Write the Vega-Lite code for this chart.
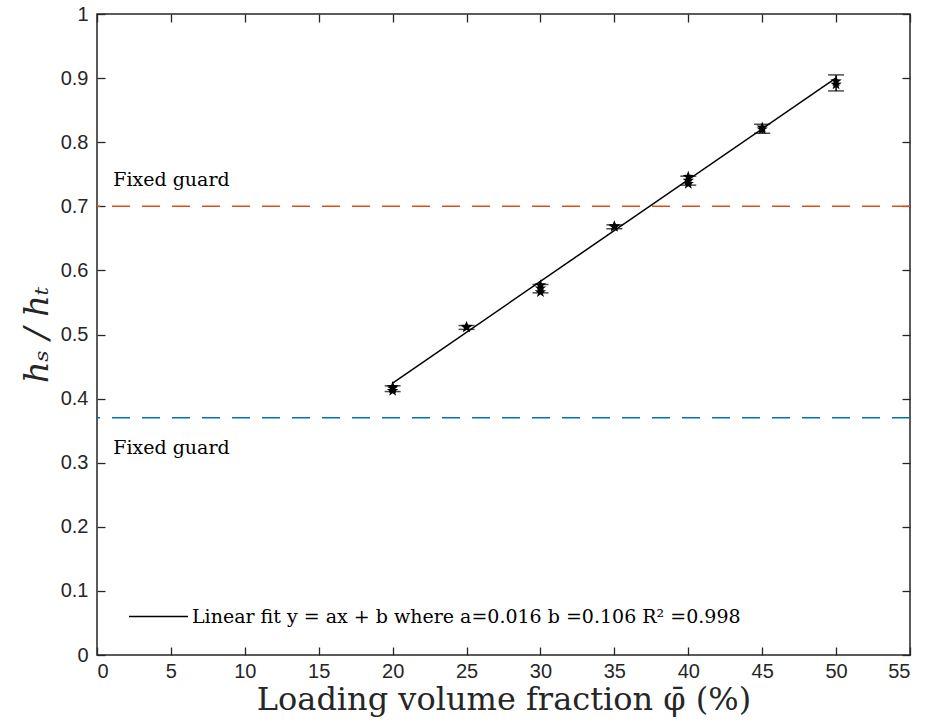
{
  "$schema": "https://vega.github.io/schema/vega-lite/v6.json",
  "width": 813,
  "height": 641,
  "autosize": {"type": "none"},
  "padding": {"left": 97, "top": 14, "right": 16, "bottom": 72},
  "background": "white",
  "config": {
    "view": {"stroke": "#262626", "strokeWidth": 1.5},
    "axis": {
      "domain": false,
      "grid": false,
      "ticks": true,
      "tickSize": -8,
      "tickColor": "#262626",
      "tickWidth": 1.3,
      "labelFont": "Liberation Sans, Arial",
      "labelFontSize": 20,
      "labelColor": "#262626",
      "titleFont": "DejaVu Serif, Liberation Serif",
      "titleFontWeight": "normal",
      "titleColor": "#262626"
    }
  },
  "datasets": {
    "points": [
      {"phi": 20, "ratio": 0.412}, {"phi": 20, "ratio": 0.416}, {"phi": 20, "ratio": 0.418},
      {"phi": 25, "ratio": 0.511}, {"phi": 25, "ratio": 0.512},
      {"phi": 30, "ratio": 0.566}, {"phi": 30, "ratio": 0.572}, {"phi": 30, "ratio": 0.577},
      {"phi": 35, "ratio": 0.668}, {"phi": 35, "ratio": 0.669},
      {"phi": 40, "ratio": 0.735}, {"phi": 40, "ratio": 0.740}, {"phi": 40, "ratio": 0.746},
      {"phi": 45, "ratio": 0.820}, {"phi": 45, "ratio": 0.823},
      {"phi": 50, "ratio": 0.890}, {"phi": 50, "ratio": 0.895}
    ],
    "errors": [
      {"phi": 20, "lo": 0.411, "hi": 0.420},
      {"phi": 25, "lo": 0.508, "hi": 0.514},
      {"phi": 30, "lo": 0.565, "hi": 0.578},
      {"phi": 35, "lo": 0.665, "hi": 0.671},
      {"phi": 40, "lo": 0.733, "hi": 0.747},
      {"phi": 45, "lo": 0.814, "hi": 0.828},
      {"phi": 50, "lo": 0.880, "hi": 0.905}
    ],
    "fit": [
      {"phi": 20, "ratio": 0.4243, "series": "Linear fit y = ax + b where a=0.016 b =0.106 R² =0.998"},
      {"phi": 50, "ratio": 0.9002, "series": "Linear fit y = ax + b where a=0.016 b =0.106 R² =0.998"}
    ],
    "labels": [
      {"phi": 1.1, "ratio": 0.741, "text": "Fixed guard"},
      {"phi": 1.1, "ratio": 0.323, "text": "Fixed guard"}
    ]
  },
  "layer": [
    {
      "data": {"values": [{"level": 0.7}]},
      "mark": {"type": "rule", "color": "#D95319", "strokeWidth": 1.5, "strokeDash": [18, 12]},
      "encoding": {"y": {"field": "level", "type": "quantitative", "axis": null, "scale": {"domain": [0, 1]}}}
    },
    {
      "data": {"values": [{"level": 0.37}]},
      "mark": {"type": "rule", "color": "#0072BD", "strokeWidth": 1.5, "strokeDash": [18, 12]},
      "encoding": {"y": {"field": "level", "type": "quantitative", "axis": null}}
    },
    {
      "data": {"name": "labels"},
      "mark": {"type": "text", "font": "DejaVu Serif, Liberation Serif", "fontSize": 19, "align": "left", "baseline": "middle", "color": "#000000"},
      "encoding": {
        "x": {"field": "phi", "type": "quantitative", "axis": null},
        "y": {"field": "ratio", "type": "quantitative", "axis": null},
        "text": {"field": "text"}
      }
    },
    {
      "data": {"name": "fit"},
      "mark": {"type": "line", "strokeWidth": 1.5},
      "encoding": {
        "x": {"field": "phi", "type": "quantitative", "axis": {"orient": "top", "labels": false, "title": null, "values": [0,5,10,15,20,25,30,35,40,45,50,55]}},
        "y": {"field": "ratio", "type": "quantitative", "axis": {"orient": "right", "labels": false, "title": null, "values": [0,0.1,0.2,0.3,0.4,0.5,0.6,0.7,0.8,0.9,1]}},
        "color": {
          "field": "series", "type": "nominal",
          "scale": {"range": ["#000000"]},
          "legend": {
            "title": null,
            "orient": "none",
            "legendX": 31,
            "legendY": 572,
            "symbolType": "stroke",
            "symbolSize": 3481,
            "symbolStrokeWidth": 1.5,
            "labelFont": "DejaVu Serif, Liberation Serif",
            "labelFontSize": 19,
            "labelColor": "#000000",
            "labelOffset": 3,
            "labelLimit": 0
          }
        }
      }
    },
    {
      "data": {"name": "errors"},
      "mark": {"type": "rule", "color": "#000000", "strokeWidth": 1.5},
      "encoding": {
        "x": {"field": "phi", "type": "quantitative", "axis": null},
        "y": {"field": "lo", "type": "quantitative", "axis": null},
        "y2": {"field": "hi"}
      }
    },
    {
      "data": {"name": "errors"},
      "mark": {"type": "tick", "orient": "horizontal", "color": "#000000", "size": 16, "thickness": 1.5},
      "encoding": {
        "x": {"field": "phi", "type": "quantitative", "axis": null},
        "y": {"field": "lo", "type": "quantitative", "axis": null}
      }
    },
    {
      "data": {"name": "errors"},
      "mark": {"type": "tick", "orient": "horizontal", "color": "#000000", "size": 16, "thickness": 1.5},
      "encoding": {
        "x": {"field": "phi", "type": "quantitative", "axis": null},
        "y": {"field": "hi", "type": "quantitative", "axis": null}
      }
    },
    {
      "data": {"name": "points"},
      "mark": {"type": "point", "shape": "M0,-1L0.235,-0.324L0.951,-0.309L0.38,0.124L0.588,0.809L0,0.4L-0.588,0.809L-0.38,0.124L-0.951,-0.309L-0.235,-0.324Z", "filled": true, "color": "#000000", "size": 144, "opacity": 1},
      "encoding": {
        "x": {
          "field": "phi", "type": "quantitative",
          "scale": {"domain": [0, 55], "nice": false, "zero": false},
          "axis": {"orient": "bottom", "values": [0,5,10,15,20,25,30,35,40,45,50,55], "labelPadding": 14, "title": "Loading volume fraction φ̄ (%)", "titleFontSize": 32, "titlePadding": 3}
        },
        "y": {
          "field": "ratio", "type": "quantitative",
          "scale": {"domain": [0, 1], "nice": false, "zero": false},
          "axis": {"orient": "left", "values": [0,0.1,0.2,0.3,0.4,0.5,0.6,0.7,0.8,0.9,1], "format": "~g", "labelPadding": 17, "title": "hₛ / hₜ", "titleFontSize": 34, "titleFontStyle": "italic", "titlePadding": 6}
        }
      }
    }
  ],
  "resolve": {"axis": {"x": "independent", "y": "independent"}}
}
